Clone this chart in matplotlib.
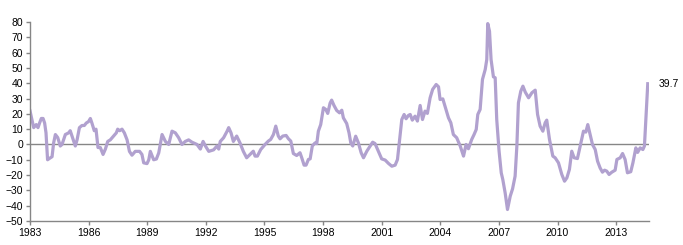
#!/usr/bin/env python3
"""Single lavender line, 1983-2014, with zero reference line and end label."""

import matplotlib
matplotlib.use("Agg")
import matplotlib.pyplot as plt

# decimal year, value (at turning points)
years = [
    1983.00, 1983.19, 1983.32, 1983.41, 1983.49, 1983.58, 1983.67, 1983.75, 1983.82, 1983.90,
    1984.01, 1984.13, 1984.21, 1984.30, 1984.42, 1984.55, 1984.64, 1984.81, 1984.98, 1985.06,
    1985.15, 1985.32, 1985.41, 1985.53, 1985.66, 1985.78, 1985.88, 1986.00, 1986.09, 1986.17,
    1986.29, 1986.38, 1986.48, 1986.60, 1986.74, 1986.86, 1986.98, 1987.11, 1987.28, 1987.42,
    1987.49, 1987.59, 1987.71, 1987.83, 1987.97, 1988.09, 1988.22, 1988.39, 1988.61, 1988.73,
    1988.82, 1988.99, 1989.08, 1989.16, 1989.33, 1989.47, 1989.59, 1989.76, 1989.93, 1990.10,
    1990.27, 1990.44, 1990.61, 1990.78, 1990.95, 1991.12, 1991.29, 1991.55, 1991.72, 1991.86,
    1991.98, 1992.15, 1992.40, 1992.57, 1992.66, 1992.74, 1992.91, 1993.09, 1993.17, 1993.29,
    1993.41, 1993.58, 1993.75, 1993.92, 1994.09, 1994.26, 1994.43, 1994.52, 1994.64, 1994.81,
    1995.03, 1995.20, 1995.32, 1995.46, 1995.58, 1995.71, 1995.80, 1995.94, 1996.11, 1996.23,
    1996.35, 1996.48, 1996.65, 1996.82, 1996.91, 1997.03, 1997.13, 1997.25, 1997.34, 1997.45,
    1997.59, 1997.68, 1997.76, 1997.88, 1998.02, 1998.14, 1998.24, 1998.36, 1998.44, 1998.56,
    1998.70, 1998.84, 1998.96, 1999.04, 1999.21, 1999.33, 1999.42, 1999.52, 1999.67, 1999.81,
    1999.95, 2000.07, 2000.24, 2000.41, 2000.54, 2000.66, 2000.83, 2001.00, 2001.18, 2001.35,
    2001.52, 2001.69, 2001.81, 2001.94, 2002.03, 2002.15, 2002.25, 2002.37, 2002.46, 2002.57,
    2002.71, 2002.83, 2002.97, 2003.09, 2003.22, 2003.34, 2003.48, 2003.61, 2003.79, 2003.91,
    2003.99, 2004.13, 2004.25, 2004.42, 2004.54, 2004.67, 2004.84, 2005.02, 2005.19, 2005.32,
    2005.44, 2005.61, 2005.73, 2005.84, 2005.92, 2006.04, 2006.16, 2006.30, 2006.38, 2006.43,
    2006.52, 2006.60, 2006.72, 2006.81, 2006.89, 2007.01, 2007.12, 2007.20, 2007.32, 2007.44,
    2007.58, 2007.70, 2007.83, 2007.92, 2008.00, 2008.12, 2008.23, 2008.35, 2008.52, 2008.69,
    2008.86, 2008.98, 2009.11, 2009.25, 2009.37, 2009.45, 2009.59, 2009.76, 2009.88, 2010.05,
    2010.22, 2010.36, 2010.48, 2010.61, 2010.73, 2010.85, 2011.02, 2011.16, 2011.33, 2011.45,
    2011.55, 2011.67, 2011.79, 2011.93, 2012.05, 2012.18, 2012.30, 2012.41, 2012.52, 2012.64,
    2012.78, 2012.95, 2013.04, 2013.21, 2013.33, 2013.46, 2013.58, 2013.75, 2013.86, 2014.01,
    2014.10, 2014.23, 2014.37, 2014.45, 2014.54, 2014.62,
]
values = [
    22.0, 11.0, 13.0, 11.0, 14.0, 17.0, 17.0, 14.0, 7.6, -10.0,
    -9.0, -8.0, 1.0, 6.5, 4.5, -1.0, 0.0, 6.5, 7.6, 9.0,
    5.5, -1.0, 3.0, 11.0, 12.4, 12.4, 14.0, 15.0, 17.0, 14.0,
    9.0, 10.0, -2.0, -2.0, -6.5, -3.0, 2.0, 3.0, 5.5, 7.6,
    10.0, 9.0, 10.0, 7.6, 3.0, -4.5, -7.0, -4.5, -4.5, -6.5,
    -12.0, -12.5, -10.0, -4.5, -10.0, -9.5, -5.5, 6.5, 2.0, 0.0,
    8.7, 7.6, 4.4, 0.0, 2.0, 3.0, 1.5, 0.0, -3.0, 2.0,
    -1.0, -4.5, -3.5, -1.0, -3.0, 2.0, 4.4, 8.7, 11.0, 7.6,
    2.0, 5.5, 1.0, -4.5, -8.7, -6.5, -4.4, -7.6, -7.6, -3.3,
    0.0, 2.2, 3.3, 6.5, 12.0, 5.5, 3.7, 5.5, 5.9, 3.7,
    2.2, -5.9, -7.2, -5.4, -8.7, -13.5, -13.5, -9.8, -9.4, -1.0,
    1.0, 0.6, 8.7, 13.0, 24.0, 22.9, 20.3, 27.0, 29.0, 25.5,
    22.2, 20.7, 22.4, 17.4, 13.7, 7.6, 1.0, -1.0, 5.4, 1.0,
    -5.4, -8.7, -4.4, -1.0, 1.5, 0.6, -4.4, -9.4, -10.2, -12.4,
    -14.2, -13.5, -9.8, 5.4, 16.3, 19.6, 16.8, 19.0, 19.6, 15.9,
    18.5, 15.3, 25.5, 16.3, 21.8, 20.3, 30.5, 36.0, 39.2, 37.7,
    29.4, 29.8, 24.6, 17.4, 14.2, 6.5, 4.4, -1.0, -7.6, 0.0,
    -2.8, 3.3, 6.5, 9.8, 19.6, 22.9, 42.5, 49.0, 55.5, 79.0,
    74.0, 55.5, 44.2, 43.6, 16.3, -4.4, -18.5, -22.9, -31.6, -42.5,
    -33.8, -29.0, -20.7, -1.0, 27.2, 34.8, 38.1, 34.2, 30.5, 33.8,
    35.5, 19.6, 12.0, 8.7, 14.2, 15.9, 3.3, -7.6, -8.7, -12.0,
    -19.6, -24.0, -21.8, -16.3, -4.4, -8.7, -9.2, -1.0, 8.7, 8.1,
    13.0, 6.5, 0.0, -3.3, -10.9, -15.3, -18.1, -16.8, -17.4, -19.6,
    -18.1, -16.8, -9.8, -8.7, -5.9, -9.8, -18.5, -17.8, -12.0, -2.2,
    -5.2, -2.2, -3.3, -1.0, 20.7, 39.7,
]
xticks = [1983, 1986, 1989, 1992, 1995, 1998, 2001, 2004, 2007, 2010, 2013]
yticks = [-50, -40, -30, -20, -10, 0, 10, 20, 30, 40, 50, 60, 70, 80]
end_label = "39.7"

plt.rcParams["font.family"] = ["Liberation Sans", "DejaVu Sans"]
plt.rcParams["font.size"] = 7.5

LINE = "#B1A1CF"
AXIS = "#868686"

fig = plt.figure(figsize=(6.83, 2.45), dpi=100)
ax = fig.add_axes([0.0439, 0.098, 0.9068, 0.812])

ax.axhline(0, color=AXIS, lw=1.0, zorder=1)
ax.plot(years, values, color=LINE, lw=2.3, solid_joinstyle="round", zorder=2)
ax.annotate(end_label, xy=(years[-1], values[-1]), xytext=(8, 0),
            textcoords="offset points", ha="left", va="center", fontsize=7.5)

ax.set_xlim(1983, 2014.7)
ax.set_ylim(-50, 80)
ax.set_xticks(xticks)
ax.set_yticks(yticks)

for side in ("top", "right"):
    ax.spines[side].set_visible(False)
for side in ("left", "bottom"):
    ax.spines[side].set_color(AXIS)
    ax.spines[side].set_linewidth(1.0)
ax.tick_params(axis="both", colors=AXIS, length=3, width=1.0, labelcolor="black", pad=2)

fig.savefig("out.png", dpi=100)
